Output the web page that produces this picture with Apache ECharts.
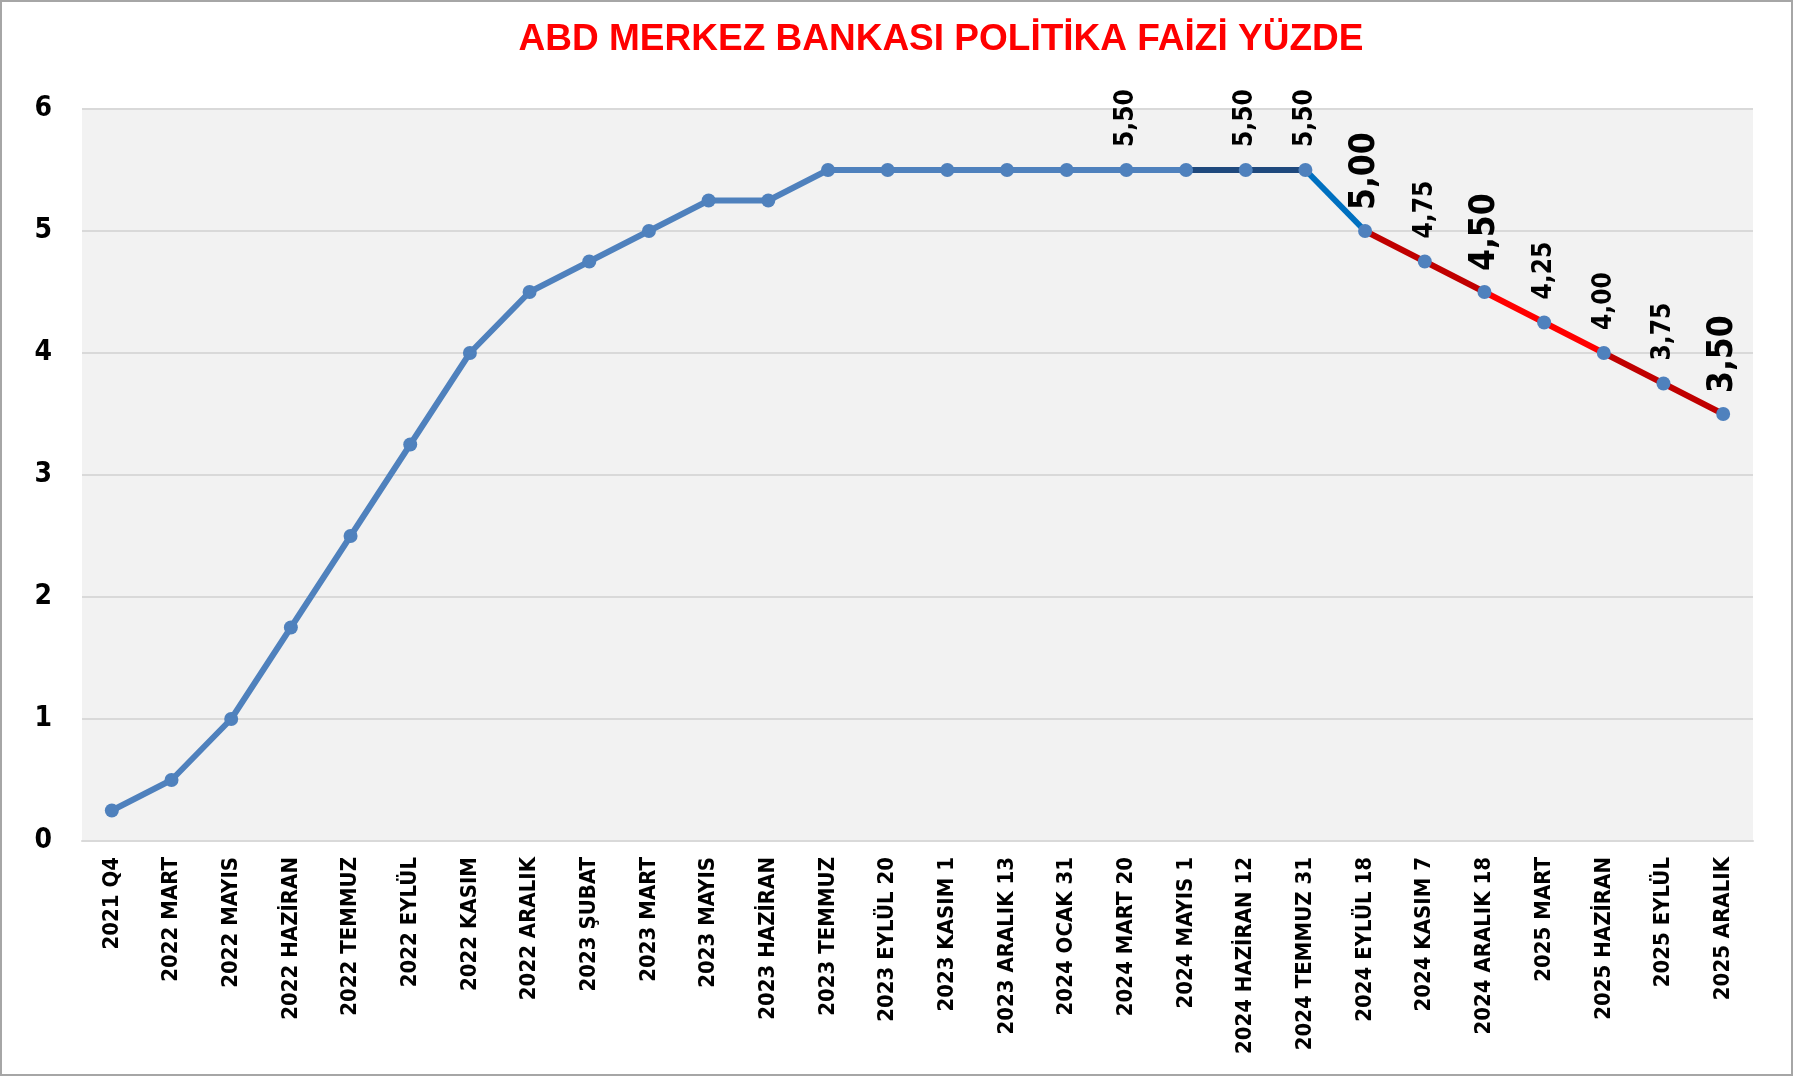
<!DOCTYPE html>
<html>
<head>
<meta charset="utf-8">
<script src="https://cdn.jsdelivr.net/npm/echarts@6/dist/echarts.min.js"></script>
<style>html,body{margin:0;padding:0;background:#fff}#c{width:1804px;height:1078px}</style>
</head>
<body>
<div id="c"></div>
<script>
const categories = ["2021 Q4","2022 MART","2022 MAYIS","2022 HAZİRAN","2022 TEMMUZ","2022 EYLÜL","2022 KASIM","2022 ARALIK","2023 ŞUBAT","2023 MART","2023 MAYIS","2023 HAZİRAN","2023 TEMMUZ","2023 EYLÜL 20","2023 KASIM 1","2023 ARALIK 13","2024 OCAK 31","2024 MART 20","2024 MAYIS 1","2024 HAZİRAN 12","2024 TEMMUZ 31","2024 EYLÜL 18","2024 KASIM 7","2024 ARALIK 18","2025 MART","2025 HAZİRAN","2025 EYLÜL","2025 ARALIK"];
const rates = [0.25,0.5,1.0,1.75,2.5,3.25,4.0,4.5,4.75,5.0,5.25,5.25,5.5,5.5,5.5,5.5,5.5,5.5,5.5,5.5,5.5,5.0,4.75,4.5,4.25,4.0,3.75,3.5];
// 0 = no label, 1 = normal label, 2 = large label
const labelKind = [0,0,0,0,0,0,0,0,0,0,0,0,0,0,0,0,0,1,0,1,1,2,1,2,1,1,1,2];
// line segments: [startIndex, endIndex, color]
const segments = [[0,18,"#4F81BD"],[18,20,"#1F497D"],[20,21,"#0070C0"],[21,23,"#C00000"],[23,25,"#FF0000"],[25,27,"#C00000"]];
const yTicks = [0,1,2,3,4,5,6];

const FONT = '"DejaVu Sans Condensed", "DejaVu Sans", sans-serif';
const chart = echarts.init(document.getElementById('c'));
const fmt = v => v.toFixed(2).replace('.', ',');

const series = segments.map(s => ({
  type: 'line',
  data: rates.map((v,i) => (i >= s[0] && i <= s[1]) ? v : null),
  showSymbol: false,
  symbol: 'none',
  lineStyle: {color: s[2], width: 6},
  connectNulls: false,
  silent: true,
  z: 2
}));
series.push({
  type: 'line',
  data: rates.map((v,i) => ({
    value: v,
    label: {
      show: labelKind[i] > 0,
      fontSize: labelKind[i] === 2 ? 35 : 26,
      distance: labelKind[i] === 2 ? 14 : 16
    }
  })),
  symbol: 'circle',
  symbolSize: 14,
  showAllSymbol: true,
  itemStyle: {color: '#4F81BD'},
  lineStyle: {opacity: 0},
  label: {
    show: false,
    position: 'top',
    rotate: 90,
    align: 'left',
    verticalAlign: 'middle',
    color: '#000',
    fontFamily: FONT,
    fontWeight: 'bold',
    formatter: p => fmt(p.value)
  },
  z: 3
});

chart.setOption({
  animation: false,
  backgroundColor: '#fff',
  title: {
    text: 'ABD MERKEZ BANKASI POLİTİKA FAİZİ YÜZDE',
    left: 936,
    textAlign: 'center',
    top: 16,
    textStyle: {color: '#FF0000', fontFamily: 'Liberation Sans', fontWeight: 'bold', fontSize: 37}
  },
  grid: {left: 82, right: 51, top: 109, bottom: 237, containLabel: false,
         show: true, backgroundColor: '#F2F2F2', borderWidth: 0},
  xAxis: {
    type: 'category',
    data: categories,
    boundaryGap: true,
    axisLine: {show: true, lineStyle: {color: '#D9D9D9', width: 2}},
    axisTick: {show: false},
    axisLabel: {rotate: 90, interval: 0, margin: 16, color: '#000', fontFamily: FONT, fontWeight: 'bold', fontSize: 22}
  },
  yAxis: {
    type: 'value',
    min: yTicks[0], max: yTicks[yTicks.length-1], interval: 1,
    axisLine: {show: false},
    axisTick: {show: false},
    splitLine: {lineStyle: {color: '#D9D9D9', width: 2}},
    axisLabel: {margin: 30, color: '#000', fontFamily: FONT, fontWeight: 'bold', fontSize: 28}
  },
  graphic: [{
    type: 'rect', silent: true, z: -1,
    shape: {x: 1, y: 1, width: 1791, height: 1074},
    style: {fill: 'none', stroke: '#A6A6A6', lineWidth: 2}
  }],
  series: series
});
</script>
</body>
</html>
